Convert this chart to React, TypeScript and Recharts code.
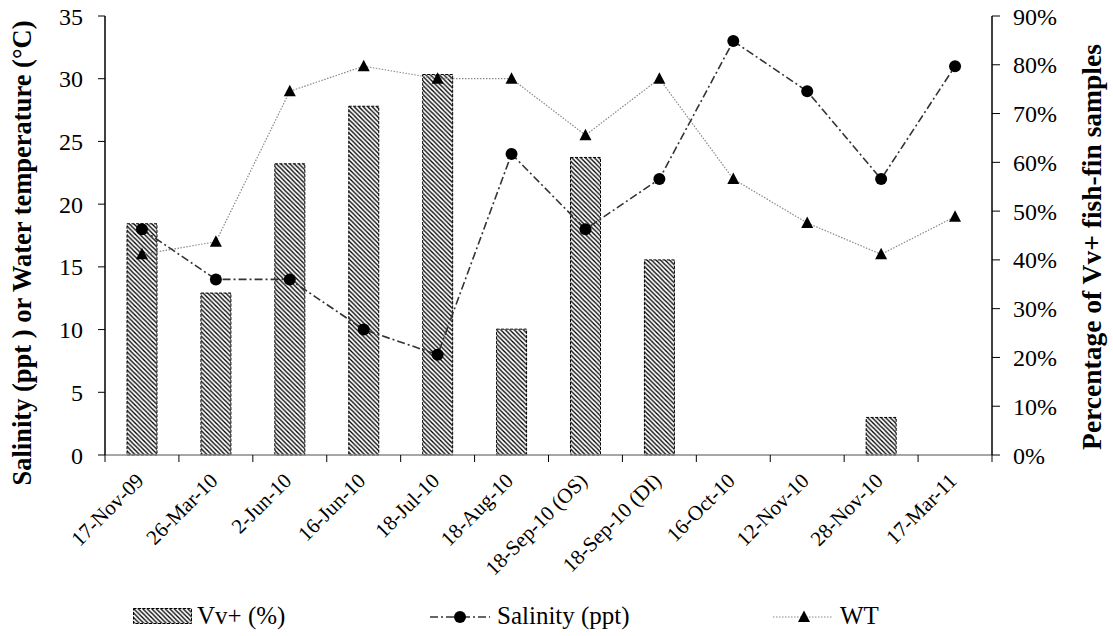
import React from "react";
import {
  ComposedChart,
  Bar,
  Line,
  XAxis,
  YAxis,
  Legend,
  Label,
} from "recharts";

const FONT = "'Liberation Serif', 'Times New Roman', serif";

// sampling dates
const dates = [
  "17-Nov-09",
  "26-Mar-10",
  "2-Jun-10",
  "16-Jun-10",
  "18-Jul-10",
  "18-Aug-10",
  "18-Sep-10 (OS)",
  "18-Sep-10 (DI)",
  "16-Oct-10",
  "12-Nov-10",
  "28-Nov-10",
  "17-Mar-11",
];

// percentage of Vv+ fish-fin samples (right axis)
const vvPositive = [47.4, 33.2, 59.7, 71.5, 78, 25.8, 61, 40, 0, 0, 7.7, 0];
// salinity, ppt (left axis)
const salinity = [18, 14, 14, 10, 8, 24, 18, 22, 33, 29, 22, 31];
// water temperature, °C (left axis)
const waterTemp = [16, 17, 29, 31, 30, 30, 25.5, 30, 22, 18.5, 16, 19];

const leftTicks = [0, 5, 10, 15, 20, 25, 30, 35];
const rightTicks = [0, 10, 20, 30, 40, 50, 60, 70, 80, 90];

const chartData = dates.map((date, i) => ({
  date,
  vv: vvPositive[i],
  salinity: salinity[i],
  wt: waterTemp[i],
}));

const W = 1113;
const H = 636;
const margin = { top: 16, right: 51, left: 45, bottom: 4 };
const LEFT_AXIS_W = 60;
const RIGHT_AXIS_W = 70;
const plotWidth = W - margin.left - margin.right - LEFT_AXIS_W - RIGHT_AXIS_W;
const band = plotWidth / dates.length;

const DateTick = (props: any) => {
  const { x, y, payload, index } = props;
  const tx = x + 3;
  const ty = y + 27;
  return (
    <g>
      <line x1={x - band / 2} x2={x - band / 2} y1={y} y2={y + 7} stroke="#000" />
      {index === dates.length - 1 && (
        <line x1={x + band / 2} x2={x + band / 2} y1={y} y2={y + 7} stroke="#000" />
      )}
      <text
        x={tx}
        y={ty}
        textAnchor="end"
        fontSize={21}
        fontFamily={FONT}
        fill="#000"
        transform={`rotate(-45, ${tx}, ${ty})`}
      >
        {payload.value}
      </text>
    </g>
  );
};

const CircleDot = (props: any) => {
  const { cx, cy } = props;
  if (cx == null || cy == null) return null;
  return <circle cx={cx} cy={cy} r={6} fill="#000" />;
};

const TriangleDot = (props: any) => {
  const { cx, cy } = props;
  if (cx == null || cy == null) return null;
  return (
    <path
      d={`M${cx},${cy - 6.5} L${cx + 6},${cy + 5} L${cx - 6},${cy + 5} Z`}
      fill="#000"
    />
  );
};

const SAL_DASH = "8 3 2 3";
const WT_DASH = "1.5 1.5";

const LegendContent = () => (
  <div
    style={{
      position: "relative",
      width: W,
      height: 32,
      fontFamily: FONT,
      fontSize: 25,
      lineHeight: "32px",
      color: "#000",
    }}
  >
    <svg style={{ position: "absolute", left: 133, top: 8 }} width={60} height={17}>
      <rect
        x={0.5}
        y={0.5}
        width={58}
        height={15}
        fill="url(#hatch)"
        stroke="#000"
        strokeDasharray="3 1.5"
      />
    </svg>
    <span style={{ position: "absolute", left: 197, top: 0 }}>Vv+ (%)</span>

    <svg style={{ position: "absolute", left: 430, top: 6 }} width={62} height={20}>
      <line x1={0} x2={60} y1={11} y2={11} stroke="#333" strokeWidth={1.6} strokeDasharray={SAL_DASH} />
      <circle cx={30} cy={11} r={6} fill="#000" />
    </svg>
    <span style={{ position: "absolute", left: 497, top: 0 }}>Salinity (ppt)</span>

    <svg style={{ position: "absolute", left: 773, top: 6 }} width={62} height={20}>
      <line x1={0} x2={59} y1={11} y2={11} stroke="#888" strokeWidth={1.2} strokeDasharray={WT_DASH} />
      <path d="M31,4.5 L37,16 L25,16 Z" fill="#000" />
    </svg>
    <span style={{ position: "absolute", left: 840, top: 0 }}>WT</span>
  </div>
);

const LeftTitle = () => (
  <text
    x={31}
    y={253}
    textAnchor="middle"
    fontSize={26.5}
    fontWeight="bold"
    fontFamily={FONT}
    fill="#000"
    transform="rotate(-90, 31, 253)"
  >
    Salinity (ppt ) or Water temperature (°C)
  </text>
);

const RightTitle = () => (
  <text
    x={1101}
    y={247}
    textAnchor="middle"
    fontSize={27.5}
    fontWeight="bold"
    fontFamily={FONT}
    fill="#000"
    transform="rotate(-90, 1101, 247)"
  >
    Percentage of Vv+ fish-fin samples
  </text>
);

export default function App() {
  return (
    <div style={{ position: "absolute", left: 0, top: 0, width: W, height: H, background: "#fff" }}>
      <svg width={0} height={0} style={{ position: "absolute" }}>
        <defs>
          <pattern id="hatch" patternUnits="userSpaceOnUse" width={4.5} height={4.5}>
            <rect width={4.5} height={4.5} fill="#fff" />
            <path d="M-1,-1 L5.5,5.5 M-1,3.5 L1,5.5 M3.5,-1 L5.5,1" stroke="#000" strokeWidth={1.3} />
          </pattern>
        </defs>
      </svg>
      <ComposedChart width={W} height={H} data={chartData} margin={margin}>
        <XAxis
          dataKey="date"
          height={145}
          interval={0}
          tickSize={0}
          tickMargin={0}
          tickLine={false}
          axisLine={{ stroke: "#888", strokeWidth: 1.5 }}
          tick={<DateTick />}
        />
        <YAxis
          yAxisId="left"
          width={LEFT_AXIS_W}
          domain={[0, 35]}
          ticks={leftTicks}
          interval={0}
          tickSize={7}
          tickMargin={15}
          axisLine={{ stroke: "#000", strokeWidth: 1.5 }}
          tickLine={{ stroke: "#000" }}
          tick={{ fill: "#000", fontSize: 24, fontFamily: FONT }}
        >
          <Label content={<LeftTitle />} />
        </YAxis>
        <YAxis
          yAxisId="right"
          orientation="right"
          width={RIGHT_AXIS_W}
          domain={[0, 90]}
          ticks={rightTicks}
          interval={0}
          tickSize={8}
          tickMargin={13}
          tickFormatter={(v: number) => `${v}%`}
          axisLine={{ stroke: "#000", strokeWidth: 1.5 }}
          tickLine={{ stroke: "#000" }}
          tick={{ fill: "#000", fontSize: 24, fontFamily: FONT }}
        >
          <Label content={<RightTitle />} />
        </YAxis>
        <Legend
          verticalAlign="bottom"
          content={<LegendContent />}
          wrapperStyle={{ left: 0, width: W, bottom: margin.bottom }}
        />
        <Bar
          yAxisId="right"
          dataKey="vv"
          name="Vv+ (%)"
          barSize={30}
          fill="url(#hatch)"
          stroke="#000"
          strokeDasharray="3 1.5"
          isAnimationActive={false}
        />
        <Line
          yAxisId="left"
          type="linear"
          dataKey="wt"
          name="WT"
          stroke="#888"
          strokeWidth={1.2}
          strokeDasharray={WT_DASH}
          dot={<TriangleDot />}
          activeDot={false}
          isAnimationActive={false}
        />
        <Line
          yAxisId="left"
          type="linear"
          dataKey="salinity"
          name="Salinity (ppt)"
          stroke="#333"
          strokeWidth={1.6}
          strokeDasharray={SAL_DASH}
          dot={<CircleDot />}
          activeDot={false}
          isAnimationActive={false}
        />
      </ComposedChart>
    </div>
  );
}
